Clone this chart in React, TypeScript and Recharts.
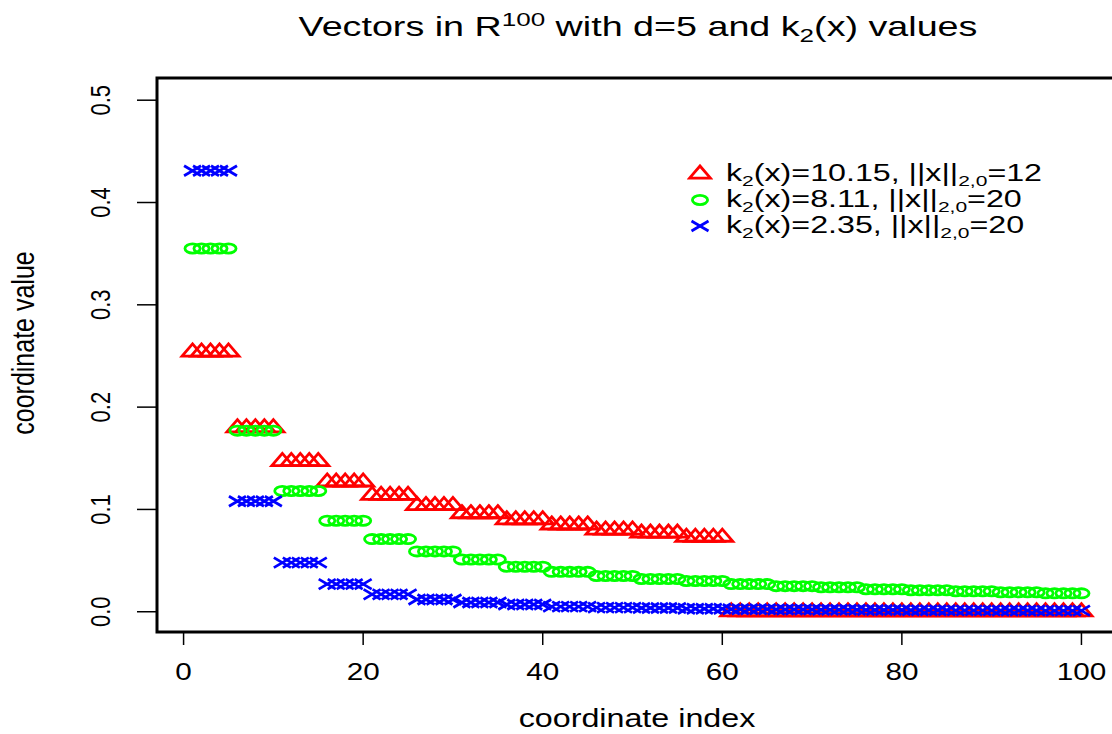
import React from "react";
import { ScatterChart, Scatter, XAxis, YAxis, ReferenceArea } from "recharts";

// each block covers 5 coordinates (d=5), 20 blocks -> R^100
const blockSize = 5;
const redBlocks = [0.254, 0.18, 0.147, 0.127, 0.114, 0.104, 0.096, 0.09, 0.085, 0.08, 0.077, 0.073, 0, 0, 0, 0, 0, 0, 0, 0];
const greenBlocks = [0.355, 0.177, 0.118, 0.089, 0.071, 0.059, 0.051, 0.044, 0.039, 0.035, 0.032, 0.03, 0.027, 0.025, 0.024, 0.022, 0.021, 0.02, 0.019, 0.018];
const blueBlocks = [0.431, 0.108, 0.048, 0.027, 0.017, 0.012, 0.009, 0.007, 0.005, 0.004, 0.0036, 0.003, 0.0025, 0.0022, 0.0019, 0.0017, 0.0015, 0.0013, 0.0012, 0.0011];

const xTicks = [0, 20, 40, 60, 80, 100];
const yTicks = [0, 0.1, 0.2, 0.3, 0.4, 0.5];
const xDomain: [number, number] = [-2.96, 103.96];
const yDomain: [number, number] = [-0.0198, 0.5217];

const legendItems = [
  { key: "red", k2: "10.15", norm: "12" },
  { key: "green", k2: "8.11", norm: "20" },
  { key: "blue", k2: "2.35", norm: "20" },
];

const expand = (blocks: number[]) =>
  blocks.flatMap((v, b) =>
    Array.from({ length: blockSize }, (_, j) => ({ i: b * blockSize + j + 1, v }))
  );

const redData = expand(redBlocks);
const greenData = expand(greenBlocks);
const blueData = expand(blueBlocks);

const FONT = "'Liberation Sans', Arial, sans-serif";
const SX = 1.29;

const Triangle = ({ cx, cy }: any) => (
  <polygon
    points={`${cx},${cy - 8} ${cx + 10.5},${cy + 4.2} ${cx - 10.5},${cy + 4.2}`}
    fill="none"
    stroke="#ff0000"
    strokeWidth={2.8}
  />
);
const Ring = ({ cx, cy }: any) => (
  <ellipse cx={cx} cy={cy} rx={7.6} ry={4.6} fill="none" stroke="#00ff00" strokeWidth={2.8} />
);
const Cross = ({ cx, cy }: any) => (
  <g stroke="#0000ff" strokeWidth={2.8}>
    <line x1={cx - 8.5} y1={cy - 5} x2={cx + 8.5} y2={cy + 5} />
    <line x1={cx - 8.5} y1={cy + 5} x2={cx + 8.5} y2={cy - 5} />
  </g>
);

const symbols: Record<string, (p: any) => React.ReactElement> = {
  red: Triangle,
  green: Ring,
  blue: Cross,
};

const XTick = ({ x, y, payload }: any) => (
  <text
    transform={`translate(${x},${y + 25}) scale(${SX},1)`}
    textAnchor="middle"
    dominantBaseline="central"
    fontFamily={FONT}
    fontSize={23}
    fill="#000"
  >
    {payload.value}
  </text>
);

const YTick = ({ x, y, payload }: any) => (
  <text
    transform={`translate(${x - 35},${y}) scale(${SX},1) rotate(-90)`}
    textAnchor="middle"
    dominantBaseline="central"
    fontFamily={FONT}
    fontSize={22}
    fill="#000"
  >
    {Number(payload.value).toFixed(1)}
  </text>
);

const subStyle: React.CSSProperties = { fontSize: 15, lineHeight: 0, verticalAlign: "-0.3em" };

const LegendBox = () => (
  <div style={{ position: "absolute", left: 687, top: 160, fontFamily: FONT, fontSize: 23, color: "#000" }}>
    {legendItems.map((it) => {
      const Sym = symbols[it.key];
      return (
        <div key={it.key} style={{ display: "flex", alignItems: "center", height: 26 }}>
          <svg width={26} height={26} style={{ flex: "none" }}>
            <Sym cx={13} cy={14} />
          </svg>
          <span
            style={{
              marginLeft: 13,
              whiteSpace: "nowrap",
              display: "inline-block",
              lineHeight: "26px",
              transform: "scaleX(1.4)",
              transformOrigin: "left center",
            }}
          >
            k<span style={subStyle}>2</span>(x)={it.k2}, ||x||
            <span style={subStyle}>2,0</span>={it.norm}
          </span>
        </div>
      );
    })}
  </div>
);

export default function App() {
  return (
    <div
      style={{
        position: "absolute",
        left: 0,
        top: 0,
        width: 1112,
        height: 734,
        overflow: "hidden",
        background: "#fff",
        fontFamily: FONT,
      }}
    >
      <div
        style={{
          position: "absolute",
          left: 638,
          top: 28,
          transform: `translate(-50%, -50%) scaleX(1.37)`,
          whiteSpace: "nowrap",
          fontSize: 27.5,
          lineHeight: "30px",
        }}
      >
        Vectors in R<sup style={{ fontSize: 19 }}>100</sup> with d=5 and k
        <sub style={{ fontSize: 19 }}>2</sub>(x) values
      </div>

      <ScatterChart width={1125} height={734} margin={{ top: 78, right: 8, bottom: 0, left: 0 }}>
        <XAxis
          type="number"
          dataKey="i"
          domain={xDomain}
          ticks={xTicks}
          allowDataOverflow
          height={102}
          axisLine={false}
          tickSize={13}
          tickLine={{ stroke: "#000", strokeWidth: 1.5 }}
          tick={<XTick />}
        />
        <YAxis
          type="number"
          dataKey="v"
          domain={yDomain}
          ticks={yTicks}
          allowDataOverflow
          width={157}
          axisLine={false}
          tickSize={20}
          tickLine={{ stroke: "#000", strokeWidth: 1.5 }}
          tick={<YTick />}
        />
        <ReferenceArea
          x1={xDomain[0]}
          x2={xDomain[1]}
          y1={yDomain[0]}
          y2={yDomain[1]}
          fill="none"
          fillOpacity={0}
          stroke="#000"
          strokeWidth={3}
        />
        <Scatter data={redData} shape={Triangle} isAnimationActive={false} />
        <Scatter data={greenData} shape={Ring} isAnimationActive={false} />
        <Scatter data={blueData} shape={Cross} isAnimationActive={false} />
      </ScatterChart>

      <LegendBox />

      <div
        style={{
          position: "absolute",
          left: 637,
          top: 718,
          transform: `translate(-50%, -50%) scaleX(${SX})`,
          whiteSpace: "nowrap",
          fontSize: 25,
        }}
      >
        coordinate index
      </div>
      <div
        style={{
          position: "absolute",
          left: 23,
          top: 343,
          transform: `translate(-50%, -50%) scaleX(${SX}) rotate(-90deg)`,
          whiteSpace: "nowrap",
          fontSize: 25,
        }}
      >
        coordinate value
      </div>
    </div>
  );
}
